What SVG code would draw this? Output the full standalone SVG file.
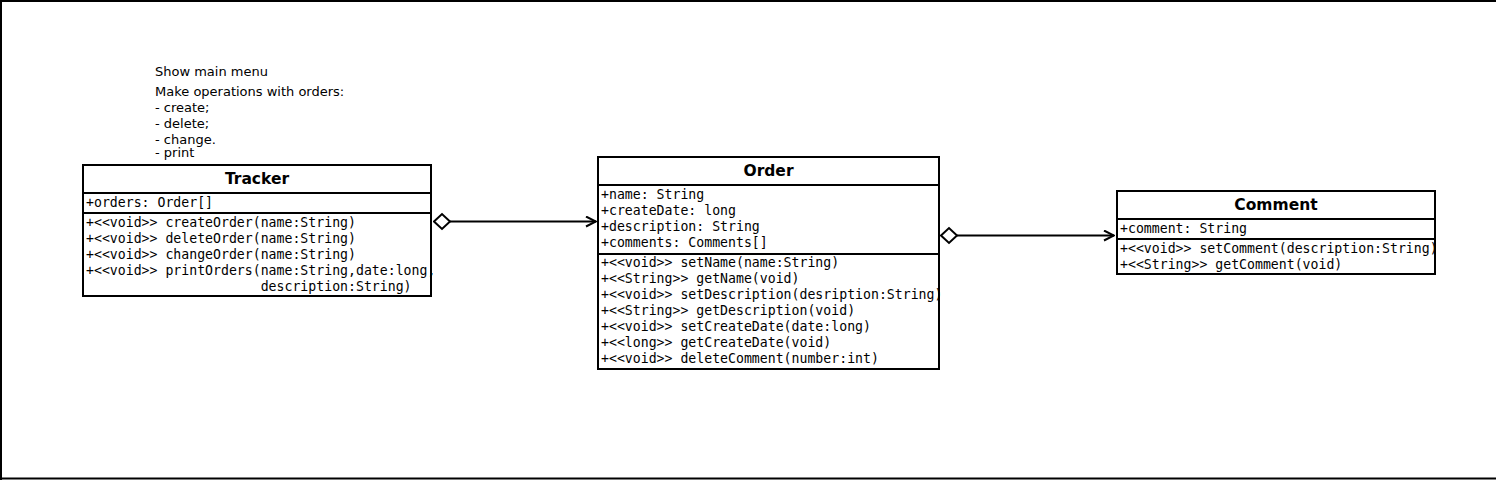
<svg xmlns="http://www.w3.org/2000/svg" width="1496" height="480" viewBox="0 0 1496 480">
<defs>
<style>
.box{fill:#fff;stroke:#000;stroke-width:2}
.div{stroke:#000;stroke-width:2}
.title{font-family:"DejaVu Sans",sans-serif;font-weight:bold;font-size:15.5px;text-anchor:middle}
.mem{font-family:"DejaVu Sans Mono",monospace;font-size:13.2px}
.note{font-family:"DejaVu Sans",sans-serif;font-size:13px}
.edge{fill:none;stroke:#000;stroke-width:2}
</style>
<marker id="open" viewBox="0 0 12 12" refX="11" refY="6" markerWidth="12" markerHeight="12" markerUnits="userSpaceOnUse" orient="auto">
<path d="M1,1 L11,6 L1,11" fill="none" stroke="#000" stroke-width="2"/>
</marker>
<marker id="diamond" viewBox="0 0 20 20" refX="1" refY="10" markerWidth="20" markerHeight="20" markerUnits="userSpaceOnUse" orient="auto">
<path d="M1,10 L9,2.5 L17,10 L9,17.5 Z" fill="#fff" stroke="#000" stroke-width="2"/>
</marker>
</defs>
<rect x="0" y="0" width="1496" height="480" fill="#fff"/>
<path d="M1,480 L1,1 L1496,1 M0,478.5 L1496,478.5" fill="none" stroke="#000" stroke-width="2"/>

<g id="note">
<text class="note" x="155" y="76">Show main menu</text>
<text class="note" x="155" y="96">Make operations with orders:</text>
<text class="note" x="155" y="112">- create;</text>
<text class="note" x="155" y="128">- delete;</text>
<text class="note" x="155" y="144">- change.</text>
<text class="note" x="155" y="157">- print</text>
</g>

<g id="tracker">
<rect class="box" x="83" y="165" width="348" height="131"/>
<line class="div" x1="83" y1="193" x2="431" y2="193"/>
<line class="div" x1="83" y1="213" x2="431" y2="213"/>
<text class="title" x="257" y="184">Tracker</text>
<text class="mem" x="86" y="207">+orders: Order[]</text>
<text class="mem" x="86" y="227">+&lt;&lt;void&gt;&gt; createOrder(name:String)</text>
<text class="mem" x="86" y="243">+&lt;&lt;void&gt;&gt; deleteOrder(name:String)</text>
<text class="mem" x="86" y="259">+&lt;&lt;void&gt;&gt; changeOrder(name:String)</text>
<text class="mem" x="86" y="275">+&lt;&lt;void&gt;&gt; printOrders(name:String,date:long,</text>
<text class="mem" x="86" y="291" xml:space="preserve">                      description:String)</text>
</g>

<g id="order">
<rect class="box" x="598" y="157" width="341" height="212"/>
<line class="div" x1="598" y1="185" x2="939" y2="185"/>
<line class="div" x1="598" y1="254" x2="939" y2="254"/>
<text class="title" x="768.5" y="176">Order</text>
<text class="mem" x="601" y="199">+name: String</text>
<text class="mem" x="601" y="215">+createDate: long</text>
<text class="mem" x="601" y="231">+description: String</text>
<text class="mem" x="601" y="247">+comments: Comments[]</text>
<text class="mem" x="601" y="267">+&lt;&lt;void&gt;&gt; setName(name:String)</text>
<text class="mem" x="601" y="283">+&lt;&lt;String&gt;&gt; getName(void)</text>
<text class="mem" x="601" y="299">+&lt;&lt;void&gt;&gt; setDescription(desription:String)</text>
<text class="mem" x="601" y="315">+&lt;&lt;String&gt;&gt; getDescription(void)</text>
<text class="mem" x="601" y="331">+&lt;&lt;void&gt;&gt; setCreateDate(date:long)</text>
<text class="mem" x="601" y="347">+&lt;&lt;long&gt;&gt; getCreateDate(void)</text>
<text class="mem" x="601" y="363">+&lt;&lt;void&gt;&gt; deleteComment(number:int)</text>
</g>

<g id="comment">
<rect class="box" x="1117" y="191" width="318" height="83"/>
<line class="div" x1="1117" y1="219" x2="1435" y2="219"/>
<line class="div" x1="1117" y1="239" x2="1435" y2="239"/>
<text class="title" x="1276" y="210">Comment</text>
<text class="mem" x="1120" y="233">+comment: String</text>
<text class="mem" x="1120" y="253">+&lt;&lt;void&gt;&gt; setComment(description:String)</text>
<text class="mem" x="1120" y="269">+&lt;&lt;String&gt;&gt; getComment(void)</text>
</g>

<g id="connectors">
<path class="edge" d="M434,221.5 L596,221.5" marker-start="url(#diamond)" marker-end="url(#open)"/>
<path class="edge" d="M941,235.5 L1114,235.5" marker-start="url(#diamond)" marker-end="url(#open)"/>
</g>
</svg>
